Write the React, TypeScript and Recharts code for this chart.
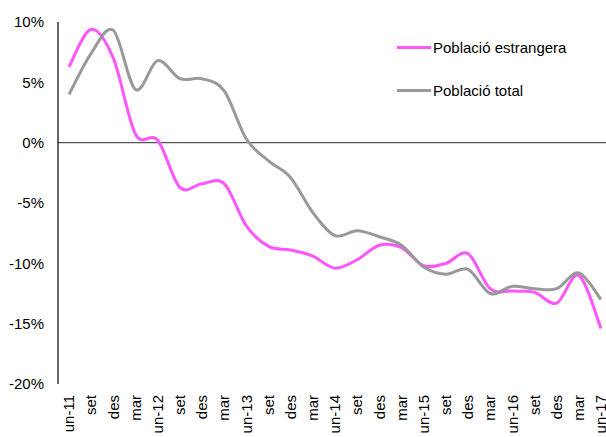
import React from 'react';
import { LineChart, Line, XAxis, YAxis, ReferenceLine } from 'recharts';

const PERIODS = [
  'un-11', 'set', 'des', 'mar', 'un-12', 'set', 'des', 'mar', 'un-13', 'set', 'des', 'mar', 'un-14',
  'set', 'des', 'mar', 'un-15', 'set', 'des', 'mar', 'un-16', 'set', 'des', 'mar', 'un-17',
];

// variació interanual (%)
const ESTRANGERA = [
  6.3, 9.4, 7.0, 0.7, 0.2, -3.7, -3.4, -3.4, -6.9, -8.6, -8.9, -9.4, -10.4,
  -9.7, -8.5, -8.7, -10.2, -10.0, -9.2, -12.1, -12.3, -12.4, -13.3, -11.0, -15.4,
];
const TOTAL = [
  4.0, 7.4, 9.3, 4.4, 6.8, 5.3, 5.3, 4.3, 0.3, -1.5, -2.9, -5.8, -7.7,
  -7.3, -7.8, -8.5, -10.3, -10.9, -10.5, -12.5, -11.9, -12.1, -12.1, -10.8, -13.0,
];
const Y_TICKS = [-20, -15, -10, -5, 0, 5, 10];

const SERIES = [
  { key: 'estrangera', name: 'Població estrangera', color: '#ff55ff' },
  { key: 'total', name: 'Població total', color: '#999999' },
];
const FONT = '"Liberation Sans", Arial, sans-serif';

const data = PERIODS.map((p, i) => ({ period: p, estrangera: ESTRANGERA[i], total: TOTAL[i] }));

// Excel-like smoothed line (Catmull-Rom through the points)
const smoothCurve = (context: any) => {
  let pts: number[][] = [];
  return {
    areaStart() {},
    areaEnd() {},
    lineStart() {
      pts = [];
    },
    point(x: number, y: number) {
      pts.push([+x, +y]);
    },
    lineEnd() {
      if (!pts.length) return;
      context.moveTo(pts[0][0], pts[0][1]);
      for (let i = 0; i < pts.length - 1; i++) {
        const p0 = pts[i - 1] || pts[i];
        const p1 = pts[i];
        const p2 = pts[i + 1];
        const p3 = pts[i + 2] || p2;
        context.bezierCurveTo(
          p1[0] + (p2[0] - p0[0]) / 6,
          p1[1] + (p2[1] - p0[1]) / 6,
          p2[0] - (p3[0] - p1[0]) / 6,
          p2[1] - (p3[1] - p1[1]) / 6,
          p2[0],
          p2[1],
        );
      }
    },
  };
};

const PeriodTick = ({ x, y, payload }: any) => (
  <g transform={`translate(${x},${y})`}>
    <text transform="rotate(-90)" textAnchor="end" dy="0.35em" fill="#000" fontSize={15} fontFamily={FONT}>
      {payload.value}
    </text>
  </g>
);

const LegendBox = () => (
  <div style={{ position: 'absolute', left: 397, top: 37, fontFamily: FONT, fontSize: 15, color: '#000' }}>
    {SERIES.map((item, i) => (
      <div key={item.key} style={{ display: 'flex', alignItems: 'center', height: 20, marginBottom: i === 0 ? 23 : 0 }}>
        <span style={{ display: 'inline-block', width: 34, height: 3, background: item.color, marginRight: 2 }} />
        <span>{item.name}</span>
      </div>
    ))}
  </div>
);

export default function App() {
  return (
    <div style={{ position: 'absolute', left: 0, top: 0, width: 606, height: 437, overflow: 'hidden', background: '#fff' }}>
      <LineChart width={620} height={437} data={data} margin={{ top: 22, right: 8, bottom: 0, left: 0 }}>
        <XAxis
          dataKey="period"
          interval={0}
          axisLine={false}
          tickLine={false}
          tickMargin={5}
          height={53}
          padding={{ left: 11, right: 11 }}
          tick={<PeriodTick />}
        />
        <YAxis
          domain={[-20, 10]}
          ticks={Y_TICKS}
          tickFormatter={(v: number) => `${v}%`}
          width={58}
          axisLine={{ stroke: '#000', strokeWidth: 1.2 }}
          tickLine={false}
          tickMargin={8}
          tick={{ fill: '#000', fontSize: 15, fontFamily: FONT }}
        />
        <ReferenceLine y={0} stroke="#555" strokeWidth={1.3} />
        {SERIES.map((s) => (
          <Line
            key={s.key}
            type={smoothCurve as any}
            dataKey={s.key}
            name={s.name}
            stroke={s.color}
            strokeWidth={3}
            dot={false}
            isAnimationActive={false}
          />
        ))}
      </LineChart>
      <LegendBox />
    </div>
  );
}
